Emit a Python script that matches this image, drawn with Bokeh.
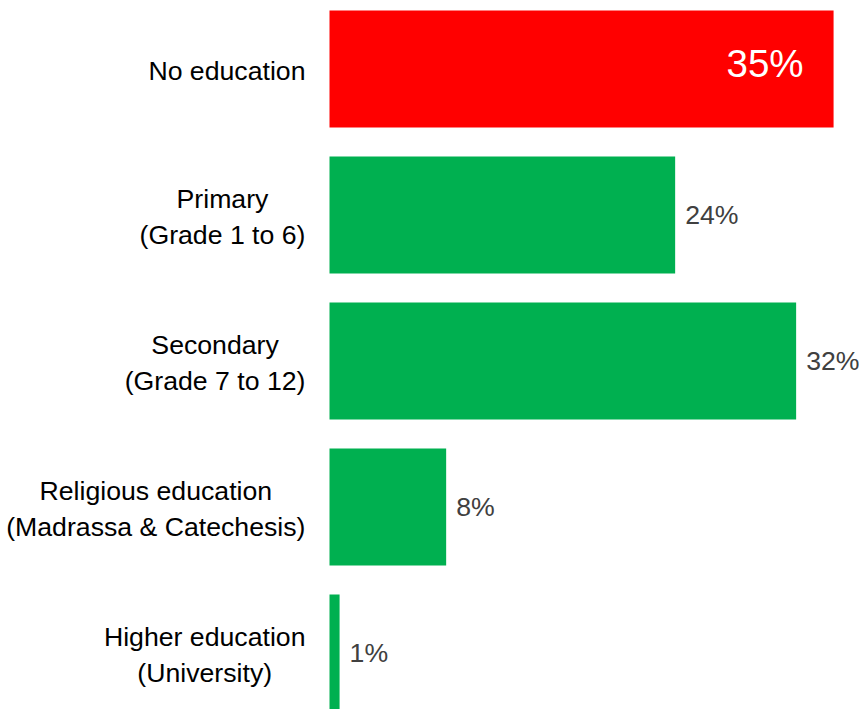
from bokeh.plotting import figure
from bokeh.models import ColumnDataSource, Range1d
from bokeh.embed import file_html
from bokeh.resources import INLINE
from bokeh.core.properties import value

categories = [
    "No education",
    "Primary\n(Grade 1 to 6)",
    "Secondary\n(Grade 7 to 12)",
    "Religious education\n(Madrassa & Catechesis)",
    "Higher education\n(University)",
]
shares = [35.0, 24.0, 32.4, 8.1, 0.7]
share_labels = ["35%", "24%", "32%", "8%", "1%"]
highlight = "No education"

RED = "#FF0000"
GREEN = "#00B050"
FONT = "Liberation Sans"
CAT_SIZE_PX = 26.67
LINE_PITCH = 36
STANDOFF = 24

# Arial / Liberation Sans advance widths (1/1000 em) used to centre the label blocks
_W = {" ": 278, "(": 333, ")": 333, "&": 667, "%": 889,
      "A": 667, "C": 722, "G": 778, "H": 722, "M": 833, "N": 722, "P": 667,
      "R": 722, "S": 667, "U": 722,
      "a": 556, "b": 556, "c": 500, "d": 556, "e": 556, "f": 278, "g": 556,
      "h": 556, "i": 222, "j": 222, "k": 500, "l": 222, "m": 833, "n": 556,
      "o": 556, "p": 556, "q": 556, "r": 333, "s": 500, "t": 278, "u": 556,
      "v": 500, "w": 722, "x": 500, "y": 500, "z": 500}


def text_width(s, size):
    return sum(_W.get(ch, 556) for ch in s) * size / 1000.0


pos = list(range(len(categories)))
colors = [RED if c == highlight else GREEN for c in categories]
src = ColumnDataSource(dict(y=pos, share=shares, color=colors))

inside = [i for i, c in enumerate(categories) if c == highlight]
outside = [i for i, c in enumerate(categories) if c != highlight]
src_in = ColumnDataSource(dict(y=[pos[i] for i in inside], share=[shares[i] for i in inside],
                               label=[share_labels[i] for i in inside]))
src_out = ColumnDataSource(dict(y=[pos[i] for i in outside], share=[shares[i] for i in outside],
                                label=[share_labels[i] for i in outside]))

# category label lines, each block centred, right edge STANDOFF px left of the bars
ly, ltext, lxoff, lyoff = [], [], [], []
for yv, cat in zip(pos, categories):
    lines = cat.split("\n")
    block_w = max(text_width(l, CAT_SIZE_PX) for l in lines)
    n = len(lines)
    for k, line in enumerate(lines):
        ly.append(yv)
        ltext.append(line)
        lxoff.append(-(STANDOFF + block_w / 2.0))
        lyoff.append((k - (n - 1) / 2.0) * LINE_PITCH + 2)
src_lab = ColumnDataSource(dict(y=ly, text=ltext, xoff=lxoff, yoff=lyoff, x=[0] * len(ly)))

W, H = 859, 709
FRAME_LEFT_PX = 329
x_end = 36.8
scale = (W - FRAME_LEFT_PX) / x_end
x_start = -FRAME_LEFT_PX / scale

p = figure(width=W, height=H, output_backend="svg", toolbar_location=None,
           x_range=Range1d(x_start, x_end), y_range=Range1d(4.387, -0.469),
           x_axis_location=None, y_axis_location=None,
           min_border_left=0, min_border_right=0, min_border_top=0, min_border_bottom=0)

p.hbar(y="y", left=0, right="share", height=0.8, fill_color="color", line_color=None, source=src)

p.text(x="share", y="y", text="label", source=src_in, text_align="right", text_baseline="middle",
       x_offset=-30, y_offset=-5, text_color="white", text_font_size="38.5px", text_font=value(FONT))
p.text(x="share", y="y", text="label", source=src_out, text_align="left", text_baseline="middle",
       x_offset=10, text_color="#404040", text_font_size=f"{CAT_SIZE_PX}px", text_font=value(FONT))

p.text(x="x", y="y", text="text", source=src_lab, x_offset="xoff", y_offset="yoff",
       text_align="center", text_baseline="middle", text_color="black",
       text_font_size=f"{CAT_SIZE_PX}px", text_font=value(FONT))

p.xgrid.visible = False
p.ygrid.visible = False
p.outline_line_color = None
p.background_fill_color = "white"
p.border_fill_color = "white"

open("out.html", "w").write(file_html(p, INLINE))
